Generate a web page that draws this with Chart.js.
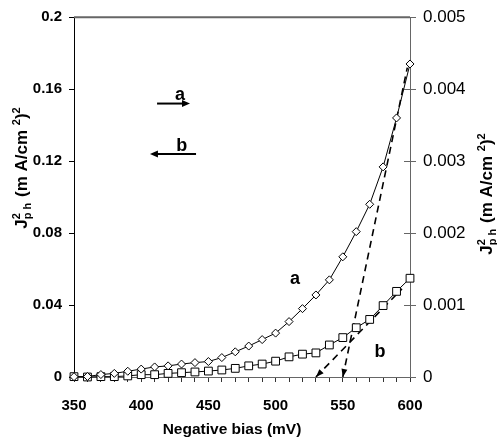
<!DOCTYPE html>
<html>
<head>
<meta charset="utf-8">
<script src="https://cdn.jsdelivr.net/npm/chart.js@4.4.1/dist/chart.umd.min.js"></script>
<style>
  html, body { margin:0; padding:0; background:#fff; }
  #wrap { width:497px; height:446px; position:relative; }
</style>
</head>
<body>
<div id="wrap"><canvas id="c" width="497" height="446"></canvas></div>
<script>
// ---- data ----
const bias = [350,360,370,380,390,400,410,420,430,440,450,460,470,480,490,500,510,520,530,540,550,560,570,580,590,600];
// curve a (diamonds) – right axis
const seriesA = [0.000004,0.000007,0.000034,0.00005,0.00008,0.00011,0.00014,0.000155,0.00018,0.0002,0.000215,0.00027,0.00035,0.00043,0.00052,0.00061,0.00077,0.00095,0.00114,0.00135,0.00167,0.00202,0.0024,0.00292,0.0036,0.00435];
// curve b (squares) – left axis
const seriesB = [0.0002,0,0.0002,0.0002,0.0006,0.0013,0.0013,0.002,0.0024,0.0028,0.0033,0.0039,0.0048,0.0062,0.0072,0.0088,0.0112,0.0127,0.0134,0.0178,0.0219,0.0274,0.032,0.0397,0.0476,0.0549];
// linear extrapolations
const fitA_x = [550, 598];
const fitA_y = [0, 0.0043];
const fitB_x = [530, 594];
const fitB_y = [0, 0.049];
// tick labels
const xTickLabels = [350,400,450,500,550,600];
const leftTicks = ['0','0.04','0.08','0.12','0.16','0.2'];
const rightTicks = ['0','0.001','0.002','0.003','0.004','0.005'];

const FONT = '"Liberation Sans", Arial, sans-serif';

// annotation texts (data coordinates on x / left axis)
const notes = [
  {text:'a', x:428.9, y:0.1565},
  {text:'b', x:430.1, y:0.1284},
  {text:'a', x:514.4, y:0.0545},
  {text:'b', x:577.7, y:0.0138}
];
const noteArrows = [
  {x1:411.8, x2:436.3, y:0.152},
  {x1:440.8, x2:406.5, y:0.124}
];

function pts(xs, ys){ return xs.map((v,i)=>({x:v, y:ys[i]})); }

function drawTitle(ctx, cx, cy){
  const main = 'bold 17px ' + FONT;
  const small = 'bold 11px ' + FONT;
  ctx.save();
  ctx.translate(cx, cy);
  ctx.rotate(-Math.PI/2);
  ctx.fillStyle = '#000';
  ctx.textBaseline = 'alphabetic';
  ctx.textAlign = 'left';
  const parts = [
    {t:'J', f:main, dy:0},
    {t:'2', f:small, dy:-7, stack:'p h'},
    {t:' (m A/cm ', f:main, dy:0},
    {t:'2', f:small, dy:-7},
    {t:')', f:main, dy:0},
    {t:'2', f:small, dy:-7}
  ];
  let w = 0;
  parts.forEach(p=>{
    ctx.font = p.f;
    let pw = ctx.measureText(p.t).width;
    if (p.stack) pw = Math.max(pw, ctx.measureText(p.stack).width) + 1;
    p.w = pw; w += pw;
  });
  let x = -w/2;
  const base = 6;
  parts.forEach(p=>{
    ctx.font = p.f;
    ctx.fillText(p.t, x, base + p.dy);
    if (p.stack) ctx.fillText(p.stack, x, base + 4);
    x += p.w;
  });
  ctx.restore();
}

function arrowHead(ctx, tipX, tipY, fromX, fromY, len, half){
  let dx = tipX - fromX, dy = tipY - fromY;
  const L = Math.hypot(dx, dy); dx/=L; dy/=L;
  const bx = tipX - dx*len, by = tipY - dy*len;
  ctx.beginPath();
  ctx.moveTo(tipX, tipY);
  ctx.lineTo(bx - dy*half, by + dx*half);
  ctx.lineTo(bx + dy*half, by - dx*half);
  ctx.closePath();
  ctx.fill();
}

const deco = {
  id: 'deco',
  afterDatasetsDraw(chart){
    const {ctx, chartArea:a, scales} = chart;
    const x = scales.x, yL = scales.yL, yR = scales.yR;
    ctx.save();
    // top frame line
    ctx.strokeStyle = '#666'; ctx.lineWidth = 2;
    ctx.beginPath(); ctx.moveTo(a.left, a.top); ctx.lineTo(a.right, a.top); ctx.stroke();
    // inward part of right ticks
    ctx.lineWidth = 1; ctx.strokeStyle = '#666';
    yR.ticks.forEach(t=>{
      const py = Math.round(yR.getPixelForValue(t.value)) + 0.5;
      ctx.beginPath(); ctx.moveTo(a.right - 6, py); ctx.lineTo(a.right, py); ctx.stroke();
    });
    // arrowheads on extrapolation lines
    ctx.fillStyle = '#000';
    arrowHead(ctx, x.getPixelForValue(fitA_x[0]), yR.getPixelForValue(fitA_y[0]),
                   x.getPixelForValue(fitA_x[1]), yR.getPixelForValue(fitA_y[1]), 8, 3);
    arrowHead(ctx, x.getPixelForValue(fitB_x[0]), yL.getPixelForValue(fitB_y[0]),
                   x.getPixelForValue(fitB_x[1]), yL.getPixelForValue(fitB_y[1]), 8, 3);
    // annotation arrows
    ctx.strokeStyle = '#000'; ctx.lineWidth = 2;
    noteArrows.forEach(n=>{
      const x1 = x.getPixelForValue(n.x1), x2 = x.getPixelForValue(n.x2), py = yL.getPixelForValue(n.y);
      const dir = Math.sign(x2 - x1);
      ctx.beginPath(); ctx.moveTo(x1, py); ctx.lineTo(x2 - dir*6, py); ctx.stroke();
      arrowHead(ctx, x2, py, x1, py, 8, 3.5);
    });
    // annotation texts
    ctx.font = 'bold 18px ' + FONT;
    ctx.textAlign = 'center'; ctx.textBaseline = 'middle';
    notes.forEach(n=>{
      ctx.fillText(n.text, x.getPixelForValue(n.x), yL.getPixelForValue(n.y));
    });
    ctx.restore();
  },
  afterDraw(chart){
    const ctx = chart.ctx;
    drawTitle(ctx, 21, 168);
    drawTitle(ctx, 486, 194);
    ctx.save();
    ctx.font = 'bold 15.5px ' + FONT;
    ctx.fillStyle = '#000';
    ctx.textAlign = 'center'; ctx.textBaseline = 'middle';
    ctx.fillText('Negative bias (mV)', 232, 430);
    ctx.restore();
  }
};

new Chart(document.getElementById('c'), {
  type: 'line',
  data: {
    datasets: [
      {
        label: 'a', data: pts(bias, seriesA), yAxisID: 'yR',
        borderColor: '#000', borderWidth: 1, tension: 0,
        pointStyle: 'rectRot', pointRadius: 4, pointBorderWidth: 1,
        pointBackgroundColor: '#fff', pointBorderColor: '#000', clip: false
      },
      {
        label: 'b', data: pts(bias, seriesB), yAxisID: 'yL',
        borderColor: '#000', borderWidth: 1, tension: 0,
        pointStyle: 'rect', pointRadius: 5.5, pointBorderWidth: 1,
        pointBackgroundColor: '#fff', pointBorderColor: '#000', clip: false
      },
      {
        label: 'fitA', data: pts(fitA_x, fitA_y), yAxisID: 'yR',
        borderColor: '#000', borderWidth: 1.6, borderDash: [7,5],
        pointRadius: 0, clip: false
      },
      {
        label: 'fitB', data: pts(fitB_x, fitB_y), yAxisID: 'yL',
        borderColor: '#000', borderWidth: 1.6, borderDash: [7,5],
        pointRadius: 0, clip: false
      }
    ]
  },
  options: {
    responsive: false,
    animation: false,
    devicePixelRatio: 1,
    layout: { padding: { top: 14, left: 0, right: 0, bottom: 0 } },
    plugins: { legend: { display: false }, tooltip: { enabled: false } },
    scales: {
      x: {
        type: 'linear', position: 'bottom', min: 350, max: 600,
        afterFit: s => { s.height = 69; },
        border: { display: true, color: '#666', width: 1 },
        grid: { drawOnChartArea: false, drawTicks: true, tickLength: 5, color: '#333' },
        ticks: {
          stepSize: 10, autoSkip: false, maxRotation: 0, padding: 15,
          color: '#000', font: { family: FONT, size: 15, weight: 'bold' },
          callback: v => xTickLabels.includes(v) ? String(v) : ''
        }
      },
      yL: {
        type: 'linear', position: 'left', min: 0, max: 0.2,
        afterFit: s => { s.width = 74; },
        border: { display: true, color: '#000', width: 1 },
        grid: { drawOnChartArea: false, drawTicks: true, tickLength: 5, color: '#000' },
        ticks: {
          stepSize: 0.04, padding: 7, color: '#000',
          font: { family: FONT, size: 15, weight: 'bold' },
          callback: (v, i) => leftTicks[i]
        }
      },
      yR: {
        type: 'linear', position: 'right', min: 0, max: 0.005,
        afterFit: s => { s.width = 87; },
        border: { display: true, color: '#666', width: 1 },
        grid: { drawOnChartArea: false, drawTicks: true, tickLength: 6, color: '#666' },
        ticks: {
          stepSize: 0.001, padding: 7, color: '#000',
          font: { family: FONT, size: 17, weight: 'normal' },
          callback: (v, i) => rightTicks[i]
        }
      }
    }
  },
  plugins: [deco]
});
</script>
</body>
</html>
